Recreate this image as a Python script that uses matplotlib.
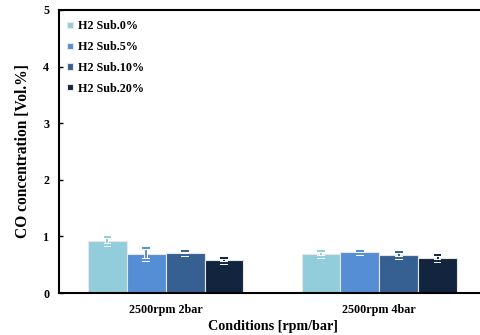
import matplotlib.pyplot as plt
import matplotlib.patheffects as pe
import numpy as np

plt.rcParams['font.family'] = ['Liberation Serif', 'DejaVu Serif']
plt.rcParams['font.weight'] = 'bold'

conditions = ["2500rpm 2bar", "2500rpm 4bar"]
series = ["H2 Sub.0%", "H2 Sub.5%", "H2 Sub.10%", "H2 Sub.20%"]
co_mean = [
    [0.92, 0.69],
    [0.69, 0.72],
    [0.71, 0.67],
    [0.58, 0.62],
]
co_err = [
    [0.07, 0.055],
    [0.11, 0.025],
    [0.035, 0.05],
    [0.045, 0.05],
]
COLOR = ["#92cddc", "#558ed5", "#376092", "#13243f"]

fig = plt.figure(figsize=(4.8, 3.35), dpi=100)
ax = fig.add_axes([59 / 480, 42 / 335, 427 / 480, 283 / 335])

x = np.arange(len(conditions))
width = 0.182
for idx, name in enumerate(series):
    pos = x + (idx - 1.5) * width
    ax.bar(pos, co_mean[idx], width, color=COLOR[idx], label=name,
           edgecolor="#e6e6e6", linewidth=0.8, zorder=2)
    _, caps, bars = ax.errorbar(pos, co_mean[idx], yerr=co_err[idx], fmt="none",
                                ecolor=COLOR[idx], elinewidth=1.4, capsize=2.8,
                                capthick=1.4, zorder=3)
    outline = [pe.Stroke(linewidth=2.8, foreground="white"), pe.Normal()]
    for art in list(caps) + list(bars):
        art.set_path_effects(outline)

ax.set_xlim(-0.5, 1.5)
ax.set_ylim(0, 5)
ax.set_yticks(range(6))
ax.set_xticks(x)
ax.set_xticklabels(conditions, fontsize=8.7, fontweight="bold")
ax.tick_params(axis="y", direction="in", length=3, width=1, labelsize=8.7, pad=7)
ax.tick_params(axis="x", length=0, pad=8)
for lbl in ax.get_yticklabels():
    lbl.set_fontweight("bold")

for side in ["left", "bottom", "top"]:
    ax.spines[side].set_linewidth(1.5)
ax.spines["right"].set_visible(False)

ax.set_ylabel("CO concentration [Vol.%]", fontsize=11.2, fontweight="bold", labelpad=9)
ax.set_xlabel("Conditions [rpm/bar]", fontsize=10.2, fontweight="bold", labelpad=3)

ax.legend(loc="upper left", frameon=False, handlelength=0.45,
          handleheight=0.45, handletextpad=0.4, labelspacing=0.72,
          borderaxespad=0.3, bbox_to_anchor=(0.0, 0.993),
          prop={"weight": "bold", "size": 8.7})

fig.savefig("out.png", dpi=100)
